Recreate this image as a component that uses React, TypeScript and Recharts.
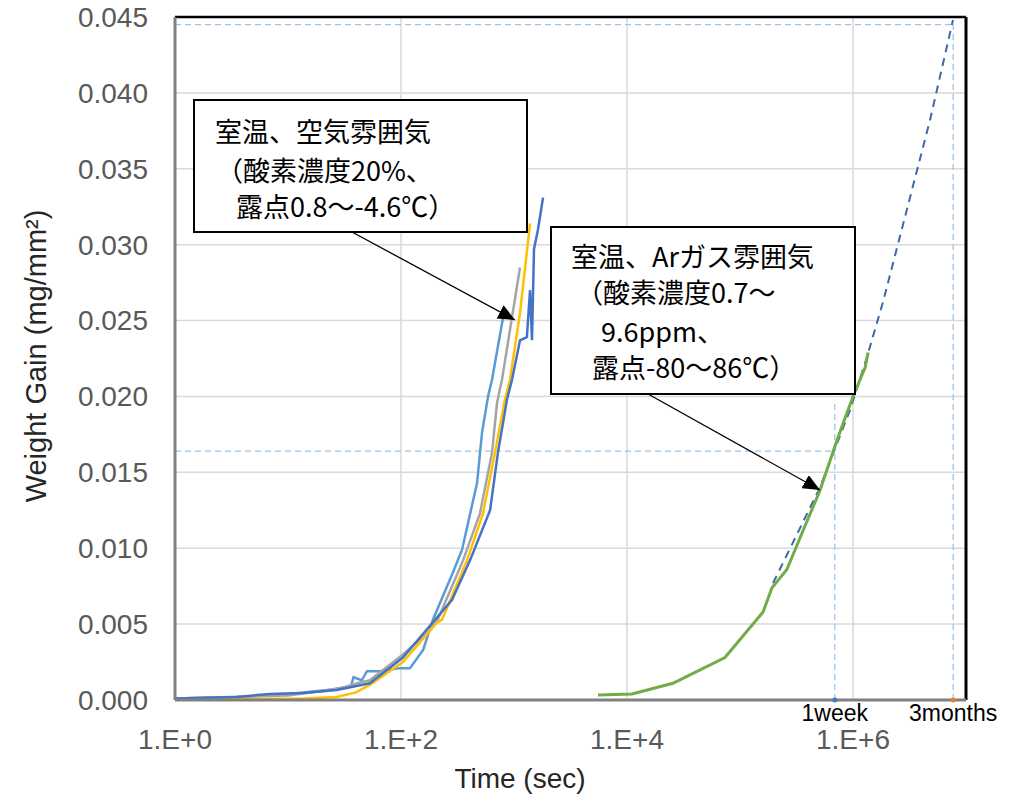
import React from 'react';
import {
  LineChart,
  Line,
  XAxis,
  YAxis,
  CartesianGrid,
  ReferenceLine,
  ReferenceDot,
} from 'recharts';

const W = 1009;
const H = 795;

// axis ticks
const xTicks = [1, 100, 10000, 1000000];
const yTicks = [0, 0.005, 0.01, 0.015, 0.02, 0.025, 0.03, 0.035, 0.04, 0.045];

// guide marks (sec / mg/mm2)
const oneWeek = 690000;
const threeMonths = 7700000;
const weekGain = 0.0164;
const weekGuideTop = 0.0198;
const monthsGain = 0.0445;

// room temp, air - four runs [time sec, gain]
const airRun1 = [
  [1, 0.0001], [4, 0.0002], [10, 0.0004], [25, 0.0007], [36, 0.0009], [38, 0.0015],
  [45, 0.0013], [50, 0.0019], [65, 0.0019], [98, 0.0021], [120, 0.0021], [157, 0.0033],
  [192, 0.0053], [288, 0.0084], [347, 0.0099], [471, 0.0143], [521, 0.0176],
  [589, 0.02], [639, 0.0211], [800, 0.0252],
];
const airRun2 = [
  [1, 0.0001], [10, 0.0003], [20, 0.0006], [30, 0.0008], [41, 0.0011], [53, 0.0013],
  [104, 0.003], [181, 0.0046], [212, 0.0053], [354, 0.0092], [500, 0.0123],
  [639, 0.0163], [708, 0.0196], [783, 0.0211], [1130, 0.0285],
];
const airRun3 = [
  [1, 0.00005], [13.6, 0.0001], [27, 0.0002], [40, 0.0005], [53, 0.001], [104, 0.0025],
  [208, 0.0051], [231, 0.0053], [384, 0.0092], [532, 0.0123], [679, 0.0163],
  [832, 0.0198], [922, 0.0211], [1130, 0.0255], [1387, 0.0314],
];
const airRun4 = [
  [1, 0.0001], [3.5, 0.0002], [6.9, 0.0004], [13.6, 0.00046], [27, 0.00066], [53, 0.0011],
  [104, 0.0028], [283, 0.0066], [408, 0.0092], [614, 0.0125], [721, 0.0163],
  [867, 0.0198], [960, 0.0211], [1130, 0.0237], [1300, 0.0239], [1387, 0.027],
  [1443, 0.0237], [1503, 0.0297], [1630, 0.031], [1807, 0.0331],
];

// room temp, Ar gas
const argonRun = [
  [5540, 0.00033], [11070, 0.0004], [25500, 0.0011], [73600, 0.0028], [160000, 0.0058],
  [192000, 0.0074], [260000, 0.0086], [354000, 0.011], [510000, 0.0138],
  [720000, 0.0171], [1000000, 0.02], [1280000, 0.0219], [1360000, 0.0229],
];
// extrapolated fit for Ar
const argonFit = [
  [196000, 0.0077], [510000, 0.014], [940000, 0.0191], [1330000, 0.0226],
  [1840000, 0.0262], [4800000, 0.0382], [7670000, 0.0448],
];

const toPoints = (pairs: number[][]) => pairs.map(([x, y]) => ({ x, y }));

const tickFont = { fill: '#595959', fontSize: 28, fontFamily: 'Liberation Sans' };
const guide = { stroke: '#9DC3E6', strokeWidth: 1.3, strokeDasharray: '6 4' };
const jp = 'Noto Sans CJK JP';

export default function App() {
  return (
    <div style={{ position: 'absolute', left: 0, top: 0, width: W, height: H, background: '#fff' }}>
      <LineChart width={W} height={H} margin={{ top: 17, right: 43, bottom: 0, left: 0 }}>
        <CartesianGrid stroke="#D9D9D9" strokeWidth={1.5} />
        <XAxis
          dataKey="x"
          type="number"
          scale="log"
          domain={[1, 10000000]}
          allowDataOverflow
          ticks={xTicks}
          interval={0}
          height={95}
          tickLine={false}
          tickSize={0}
          tickMargin={29}
          axisLine={{ stroke: '#808080', strokeWidth: 3 }}
          tick={tickFont}
          tickFormatter={(v: number) => `1.E+${Math.round(Math.log10(v))}`}
        />
        <YAxis
          type="number"
          domain={[0, 0.045]}
          ticks={yTicks}
          interval={0}
          width={175}
          tickLine={false}
          tickSize={0}
          tickMargin={27}
          axisLine={{ stroke: '#808080', strokeWidth: 3 }}
          tick={tickFont}
          tickFormatter={(v: number) => v.toFixed(3)}
        />

        {/* guides for 1 week / 3 months */}
        <ReferenceLine segment={[{ x: 1, y: weekGain }, { x: oneWeek, y: weekGain }]} {...guide} />
        <ReferenceLine segment={[{ x: oneWeek, y: 0 }, { x: oneWeek, y: weekGuideTop }]} {...guide} />
        <ReferenceLine segment={[{ x: 1, y: monthsGain }, { x: threeMonths, y: monthsGain }]} {...guide} />
        <ReferenceLine segment={[{ x: threeMonths, y: 0 }, { x: threeMonths, y: monthsGain }]} {...guide} />

        <Line data={toPoints(airRun1)} dataKey="y" stroke="#5B9BD5" strokeWidth={2.5} dot={false} isAnimationActive={false} />
        <Line data={toPoints(airRun2)} dataKey="y" stroke="#A5A5A5" strokeWidth={2.5} dot={false} isAnimationActive={false} />
        <Line data={toPoints(airRun3)} dataKey="y" stroke="#FFC000" strokeWidth={2.5} dot={false} isAnimationActive={false} />
        <Line data={toPoints(airRun4)} dataKey="y" stroke="#4472C4" strokeWidth={2.5} dot={false} isAnimationActive={false} />
        <Line data={toPoints(argonFit)} dataKey="y" stroke="#3E68A8" strokeWidth={2} strokeDasharray="8 6" dot={false} isAnimationActive={false} />
        <Line data={toPoints(argonRun)} dataKey="y" stroke="#70AD47" strokeWidth={3} dot={false} isAnimationActive={false} />

        {/* frame: top and right in black */}
        <ReferenceLine y={0.045} stroke="#000" strokeWidth={2.5} />
        <ReferenceLine x={10000000} stroke="#000" strokeWidth={3} />

        <ReferenceDot
          x={oneWeek}
          y={0}
          r={2.5}
          fill="#4472C4"
          stroke="none"
          label={{ value: '1week', position: 'bottom', offset: 2, fontSize: 23, fill: '#000', fontFamily: 'Liberation Sans' }}
        />
        <ReferenceDot
          x={threeMonths}
          y={0}
          r={2.5}
          fill="#ED7D31"
          stroke="none"
          label={{ value: '3months', position: 'bottom', offset: 2, fontSize: 23, fill: '#000', fontFamily: 'Liberation Sans' }}
        />
      </LineChart>

      <svg width={W} height={H} style={{ position: 'absolute', left: 0, top: 0, pointerEvents: 'none' }}>
        <defs>
          <marker id="head" viewBox="0 0 17 15" refX="17" refY="7.5" markerWidth="17" markerHeight="15" markerUnits="userSpaceOnUse" orient="auto">
            <path d="M0,0 L17,7.5 L0,15 z" fill="#000" />
          </marker>
        </defs>

        <text x={46} y={356} transform="rotate(-90 46 356)" textAnchor="middle" fontSize={29} fontFamily="Liberation Sans" fill="#262626">
          Weight Gain (mg/mm²)
        </text>
        <text x={520} y={788} textAnchor="middle" fontSize={28} fontFamily="Liberation Sans" fill="#262626">
          Time (sec)
        </text>

        {/* air annotation */}
        <rect x={194} y={100} width={333} height={132} fill="#fff" stroke="#000" strokeWidth={2} />
        <g fontFamily={jp} fontSize={27} fill="#000">
          <text x={215} y={142}>室温、空気雰囲気</text>
          <text x={216} y={181}>（酸素濃度20%、</text>
          <text x={236} y={217}>露点0.8～-4.6℃）</text>
        </g>
        <line x1={352} y1={232} x2={515} y2={320} stroke="#000" strokeWidth={1.3} markerEnd="url(#head)" />

        {/* Ar annotation */}
        <rect x={551} y={227} width={304} height={167} fill="#fff" stroke="#000" strokeWidth={2} />
        <g fontFamily={jp} fontSize={27} fill="#000">
          <text x={571} y={267}>室温、Arガス雰囲気</text>
          <text x={576} y={303}>（酸素濃度0.7～</text>
          <text x={601} y={342}>9.6ppm、</text>
          <text x={592} y={378}>露点-80～86℃）</text>
        </g>
        <line x1={648} y1={394} x2={820} y2={490} stroke="#000" strokeWidth={1.3} markerEnd="url(#head)" />
      </svg>
    </div>
  );
}
